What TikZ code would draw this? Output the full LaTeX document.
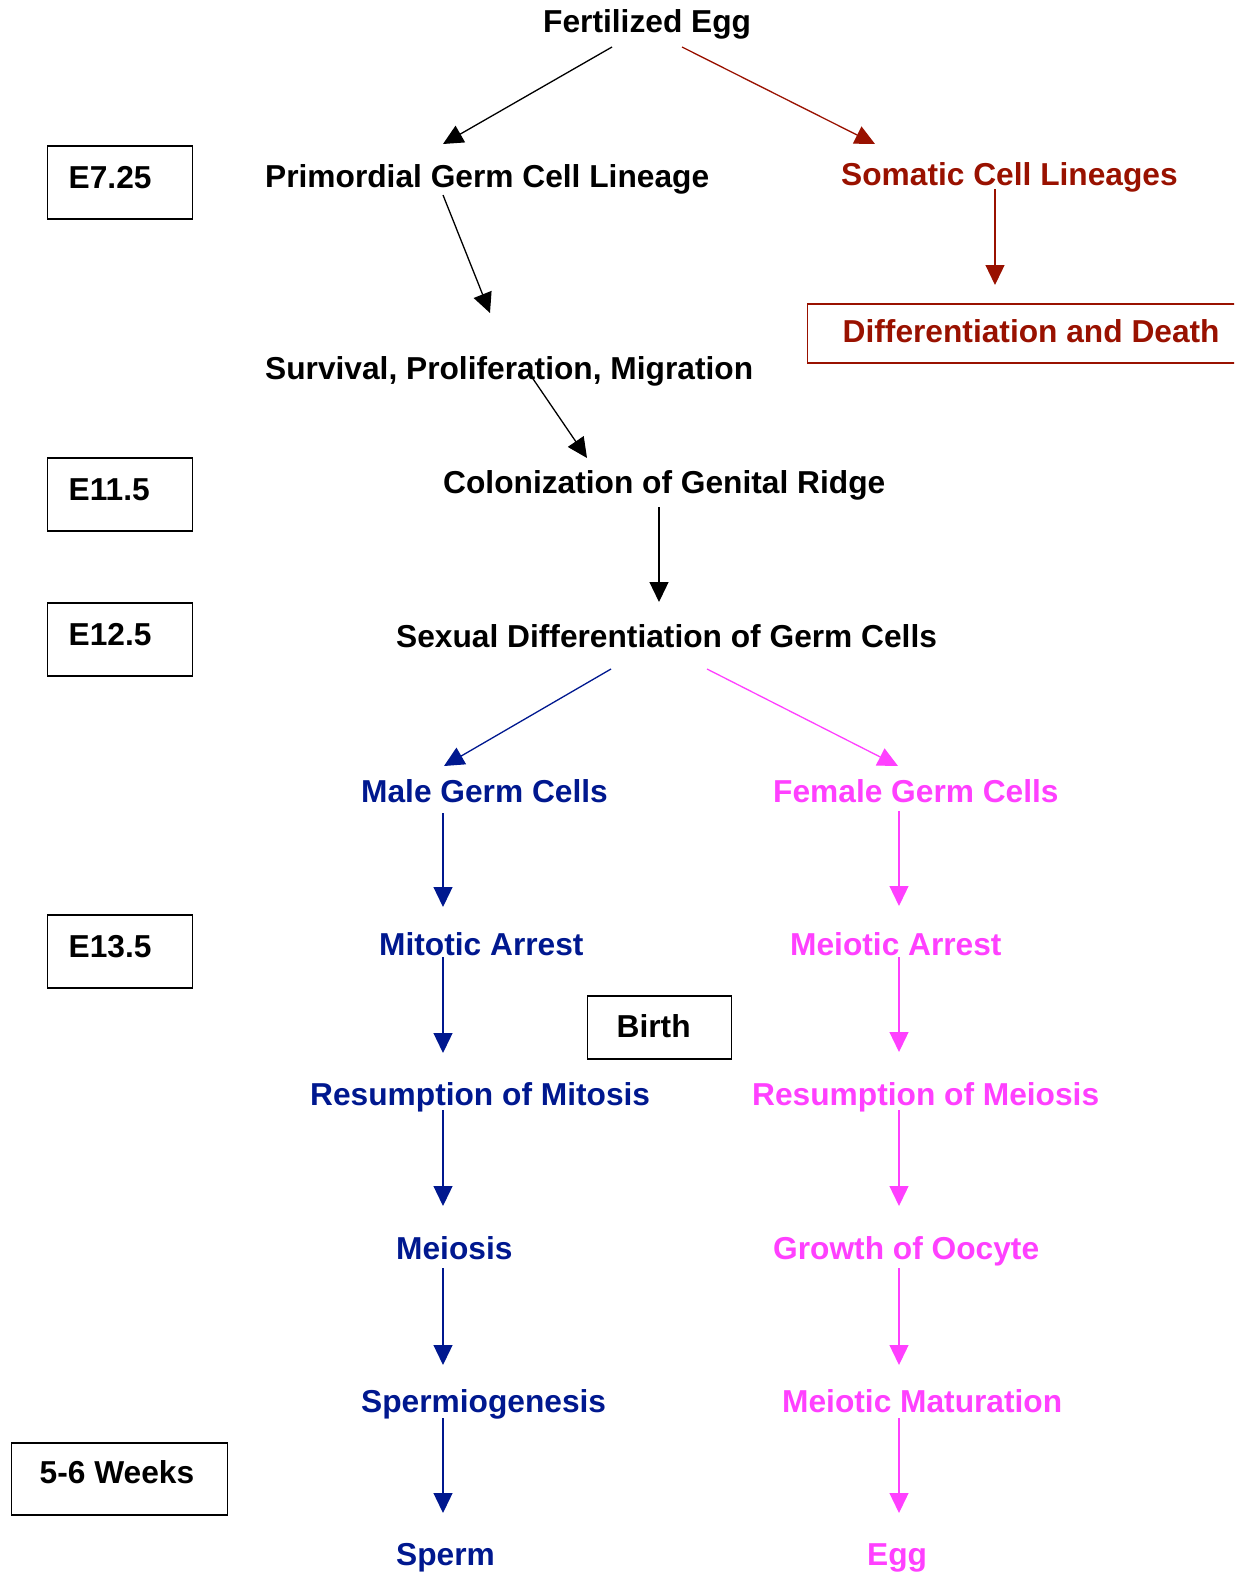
\documentclass[tikz,border=0pt]{standalone}
\usepackage{fontspec}
\setmainfont{Liberation Sans}
\usetikzlibrary{arrows.meta}

\definecolor{somared}{RGB}{153,17,0}
\definecolor{maleblue}{RGB}{0,24,143}
\definecolor{femalepink}{RGB}{255,64,255}

\begin{document}
\begin{tikzpicture}[x=1pt,y=-1pt,
  txt/.style={inner sep=0pt,anchor=base west,font=\fontsize{31.7}{38}\selectfont\bfseries},
  stage/.style={txt,draw=black,line width=1.4pt,inner ysep=0pt,inner xsep=21pt,
    text height=42pt,text depth=31pt,text width=103pt,align=flush left},
  arr/.style={line width=1.3pt,-{Triangle[length=20pt,width=19pt]}}]

\useasboundingbox (0,0) rectangle (1234,1576);
\clip (0,0) rectangle (1234,1576);

% time points
\node[stage] (e725) at (47,188) {E7.25};
\node[stage] (e115) at (47,500) {E11.5};
\node[stage] (e125) at (47,645) {E12.5};
\node[stage] (e135) at (47,957) {E13.5};
\node[stage,inner xsep=29pt,text height=41pt,text depth=22pt,text width=86pt] (birth) at (587,1037) {Birth};
\node[stage,inner xsep=28.5pt,text height=40pt,text depth=32pt,text width=159.5pt] (weeks) at (10.5,1483) {5-6 Weeks};

% -------- early lineage --------
\node[txt] (fegg) at (543,33) {Fertilized Egg};
\node[txt] (pgcl) at (265,187) {Primordial Germ Cell Lineage};
\node[txt,somared] (soma) at (841,185) {Somatic Cell Lineages};
\node[stage,draw=somared,text=somared,inner xsep=35pt,text height=38pt,text depth=21pt,text width=420pt] (death) at (807,342) {Differentiation and Death};
\node[txt] (surv) at (265,379) {Survival, Proliferation, Migration};
\node[txt] (colon) at (443,493) {Colonization of Genital Ridge};
\node[txt] (sexdiff) at (396,647) {Sexual Differentiation of Germ Cells};

\draw[arr] ([xshift=69pt,yshift=-14pt]fegg.base west) -- ([xshift=178pt,yshift=43pt]pgcl.base west);
\draw[arr,somared] ([xshift=139pt,yshift=-14pt]fegg.base west) -- ([xshift=34pt,yshift=41pt]soma.base west);
\draw[arr,somared] ([xshift=154pt,yshift=-4pt]soma.base west) -- ([xshift=188pt,yshift=57pt]death.base west);
\draw[arr] ([xshift=178pt,yshift=-8pt]pgcl.base west) -- ([xshift=225pt,yshift=66pt]surv.base west);
\draw[arr] ([xshift=262pt,yshift=9pt]surv.base west) -- ([xshift=144pt,yshift=35pt]colon.base west);
\draw[arr] ([xshift=216pt,yshift=-14pt]colon.base west) -- ([xshift=263pt,yshift=45pt]sexdiff.base west);

% -------- male branch --------
\node[txt,maleblue] (male) at (361,802) {Male Germ Cells};
\node[txt,maleblue] (mitarr) at (379,955) {Mitotic Arrest};
\node[txt,maleblue] (resmit) at (310,1105) {Resumption of Mitosis};
\node[txt,maleblue] (meio) at (396,1259) {Meiosis};
\node[txt,maleblue] (spermio) at (361,1412) {Spermiogenesis};
\node[txt,maleblue] (sperm) at (396,1565) {Sperm};

\draw[arr,maleblue] ([xshift=215pt,yshift=-22pt]sexdiff.base west) -- ([xshift=83pt,yshift=36pt]male.base west);
\draw[arr,maleblue] ([xshift=82pt,yshift=-11pt]male.base west) -- ([xshift=64pt,yshift=48pt]mitarr.base west);
\draw[arr,maleblue] ([xshift=64pt,yshift=-2pt]mitarr.base west) -- ([xshift=133pt,yshift=52pt]resmit.base west);
\draw[arr,maleblue] ([xshift=133pt,yshift=-5pt]resmit.base west) -- ([xshift=47pt,yshift=53pt]meio.base west);
\draw[arr,maleblue] ([xshift=47pt,yshift=-9pt]meio.base west) -- ([xshift=82pt,yshift=47pt]spermio.base west);
\draw[arr,maleblue] ([xshift=82pt,yshift=-6pt]spermio.base west) -- ([xshift=47pt,yshift=52pt]sperm.base west);

% -------- female branch --------
\node[txt,femalepink] (female) at (773,802) {Female Germ Cells};
\node[txt,femalepink] (meiarr) at (790,955) {Meiotic Arrest};
\node[txt,femalepink] (resmei) at (752,1105) {Resumption of Meiosis};
\node[txt,femalepink] (growth) at (773,1259) {Growth of Oocyte};
\node[txt,femalepink] (matur) at (782,1412) {Meiotic Maturation};
\node[txt,femalepink] (egg) at (867,1565) {Egg};

\draw[arr,femalepink] ([xshift=311pt,yshift=-22pt]sexdiff.base west) -- ([xshift=125pt,yshift=36pt]female.base west);
\draw[arr,femalepink] ([xshift=126pt,yshift=-9pt]female.base west) -- ([xshift=109pt,yshift=49pt]meiarr.base west);
\draw[arr,femalepink] ([xshift=109pt,yshift=-2pt]meiarr.base west) -- ([xshift=147pt,yshift=53pt]resmei.base west);
\draw[arr,femalepink] ([xshift=147pt,yshift=-5pt]resmei.base west) -- ([xshift=126pt,yshift=53pt]growth.base west);
\draw[arr,femalepink] ([xshift=126pt,yshift=-9pt]growth.base west) -- ([xshift=117pt,yshift=47pt]matur.base west);
\draw[arr,femalepink] ([xshift=117pt,yshift=-6pt]matur.base west) -- ([xshift=32pt,yshift=52pt]egg.base west);

\end{tikzpicture}
\end{document}
